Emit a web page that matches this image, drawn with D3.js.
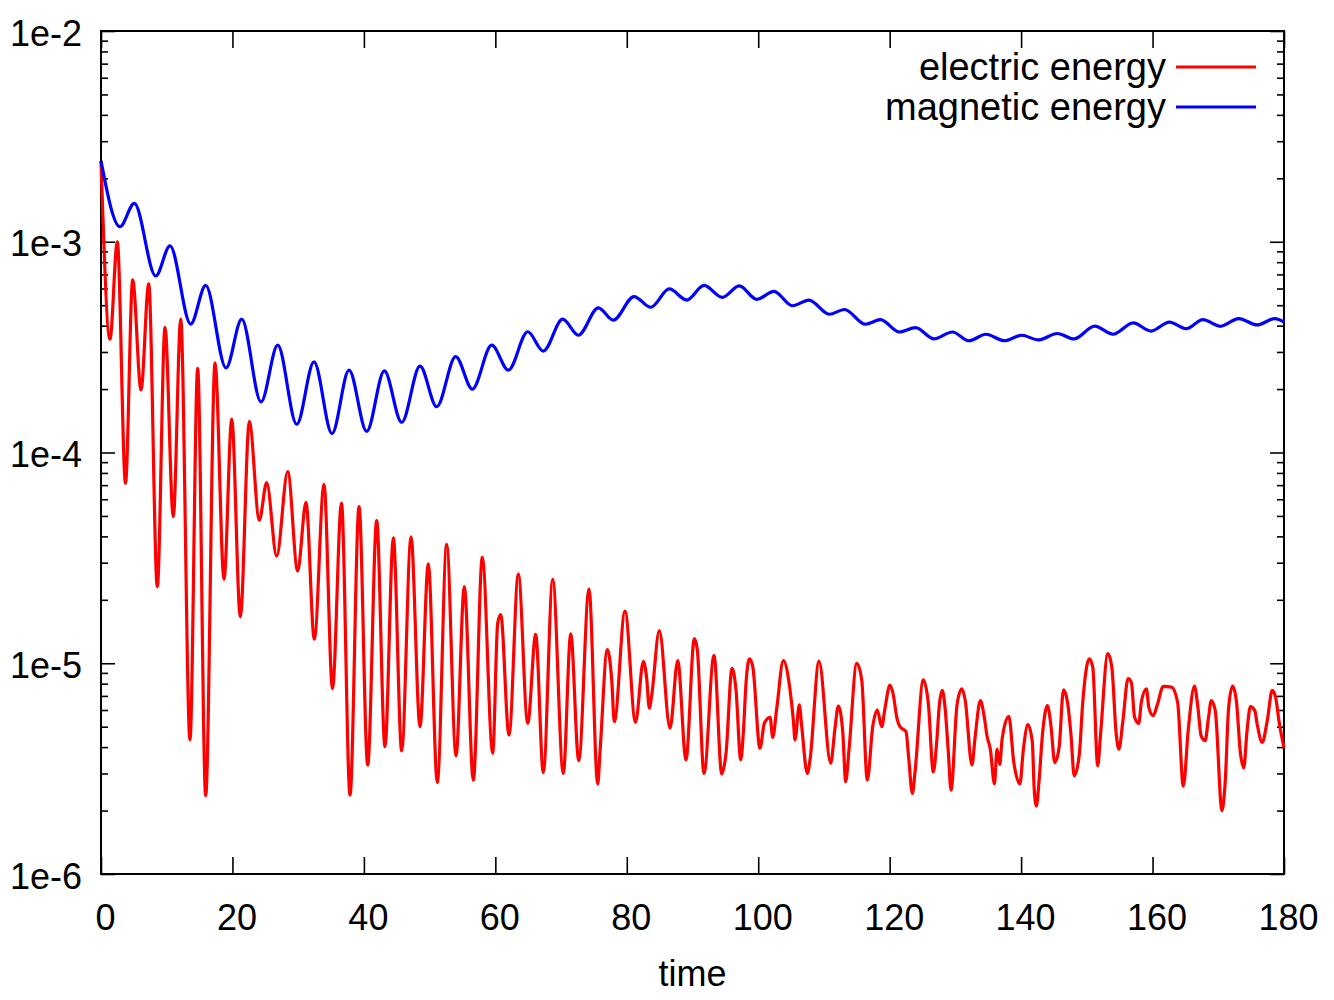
<!DOCTYPE html>
<html>
<head>
<meta charset="utf-8">
<script src="https://cdn.jsdelivr.net/npm/d3@7"></script>
<style>
body { margin: 0; background: #fff; }
text { font-family: "Liberation Sans", Arial, sans-serif; fill: #000; }
</style>
</head>
<body>
<div id="chart"></div>
<script>
// magnetic energy, peaks and troughs
var magneticTime = [0, 2.89, 5.07, 8.32, 10.50, 13.65, 15.93, 19.02, 21.41, 24.35, 26.89, 29.78, 32.41, 35.15, 37.74, 40.43, 43.11, 45.75, 48.54, 51.08, 53.97, 56.50, 59.45, 61.98, 64.93, 67.30, 70.25, 72.63, 75.67, 77.95, 81.10, 83.64, 86.47, 89.12, 91.75, 94.54, 97.12, 99.77, 102.40, 105.19, 107.73, 110.82, 113.13, 116.30, 118.60, 121.50, 123.94, 126.75, 129.55, 132.08, 134.65, 137.45, 140.10, 142.64, 145.50, 148.05, 151.20, 153.99, 157.06, 159.77, 162.57, 165.11, 167.67, 170.31, 173.11, 175.91, 178.62, 180];
var magneticEnergy = [2.42e-3, 1.18e-3, 1.52e-3, 6.88e-4, 9.55e-4, 4.07e-4, 6.21e-4, 2.52e-4, 4.29e-4, 1.74e-4, 3.23e-4, 1.36e-4, 2.69e-4, 1.23e-4, 2.46e-4, 1.26e-4, 2.44e-4, 1.39e-4, 2.57e-4, 1.65e-4, 2.85e-4, 2.00e-4, 3.23e-4, 2.46e-4, 3.74e-4, 3.03e-4, 4.29e-4, 3.60e-4, 4.86e-4, 4.25e-4, 5.49e-4, 4.89e-4, 5.97e-4, 5.29e-4, 6.21e-4, 5.45e-4, 6.17e-4, 5.33e-4, 5.82e-4, 4.97e-4, 5.29e-4, 4.53e-4, 4.77e-4, 4.06e-4, 4.27e-4, 3.73e-4, 3.91e-4, 3.46e-4, 3.73e-4, 3.39e-4, 3.64e-4, 3.39e-4, 3.60e-4, 3.42e-4, 3.67e-4, 3.46e-4, 3.98e-4, 3.64e-4, 4.12e-4, 3.77e-4, 4.16e-4, 3.87e-4, 4.27e-4, 3.97e-4, 4.32e-4, 4.03e-4, 4.32e-4, 4.16e-4];

// electric energy
var electricTime = [0, 1.37, 2.48, 3.73, 4.82, 6.09, 7.26, 8.57, 9.74, 11.0, 12.13, 13.54, 14.71, 15.93, 17.35, 18.72, 19.89, 21.2, 22.57, 24.09, 25.21, 26.73, 28.41, 29.93, 31.19, 32.46, 33.93, 35.22, 36.59, 37.89, 39.26, 40.58, 41.95, 43.21, 44.48, 45.75, 47.17, 48.54, 49.80, 51.17, 52.6, 54.02, 55.28, 56.65, 58.02, 59.6, 60.36, 60.82, 62.08, 63.5, 64.93, 66.14, 67.3, 68.73, 70.34, 71.47, 72.69, 74.25, 75.58, 75.93, 77.04, 77.71, 78.1, 79.73, 81.33, 82.52, 83.03, 83.43, 83.8, 84.95, 86.58, 87.75, 89.01, 90.28, 90.73, 91.75, 93.27, 94.45, 95.1, 96.01, 96.62, 97.34, 97.73, 98.14, 98.65, 99.16, 100.27, 100.93, 101.8, 102.21, 102.82, 103.82, 104.84, 105.34, 105.6, 106.25, 106.62, 107.47, 107.88, 109.25, 111.03, 111.68, 112.19, 112.86, 113.31, 113.81, 114.99, 115.75, 116.6, 117.42, 118.12, 118.79, 119.29, 120.05, 120.56, 121.07, 121.57, 122.49, 122.9, 123.45, 123.86, 125.12, 125.88, 126.64, 127.16, 127.56, 128.01, 128.42, 128.92, 129.34, 130.25, 130.98, 131.5, 132.52, 133.02, 133.8, 134.4, 134.81, 135.32, 135.94, 136.34, 136.75, 137.11, 138.13, 138.89, 139.82, 140.32, 141.04, 141.71, 141.97, 142.32, 142.73, 143.23, 144.0, 144.51, 145.13, 145.78, 146.45, 147.06, 147.58, 148.08, 148.86, 149.36, 150.38, 150.9, 151.66, 152.07, 153.2, 153.8, 154.47, 154.88, 155.49, 156.27, 156.77, 157.27, 157.9, 158.29, 159.07, 159.42, 160.09, 160.76, 161.63, 162.89, 163.81, 164.68, 165.44, 166.37, 166.87, 167.39, 168.0, 168.52, 168.93, 169.54, 170.56, 171.06, 171.58, 172.18, 172.75, 173.36, 173.87, 174.38, 174.89, 175.56, 175.91, 176.69, 177.45, 178.21, 178.72, 179.23, 180];
var electricEnergy = [2.42e-3, 3.45e-4, 1.0e-3, 7.15e-5, 6.59e-4, 1.98e-4, 6.31e-4, 2.31e-5, 3.93e-4, 4.96e-5, 4.29e-4, 4.33e-6, 2.51e-4, 2.35e-6, 2.66e-4, 2.50e-5, 1.44e-4, 1.66e-5, 1.40e-4, 4.78e-5, 7.19e-5, 3.22e-5, 8.11e-5, 2.74e-5, 5.80e-5, 1.30e-5, 7.07e-5, 7.57e-6, 5.76e-5, 2.37e-6, 5.53e-5, 3.29e-6, 4.75e-5, 4.02e-6, 3.94e-5, 3.84e-6, 3.98e-5, 5.00e-6, 2.96e-5, 2.72e-6, 3.67e-5, 3.63e-6, 2.31e-5, 2.79e-6, 3.18e-5, 3.74e-6, 1.55e-5, 1.70e-5, 4.56e-6, 2.65e-5, 5.19e-6, 1.37e-5, 3.03e-6, 2.50e-5, 3.00e-6, 1.38e-5, 3.45e-6, 2.25e-5, 2.67e-6, 3.80e-6, 1.16e-5, 8.33e-6, 5.28e-6, 1.77e-5, 5.24e-6, 1.02e-5, 8.47e-6, 6.12e-6, 7.07e-6, 1.43e-5, 4.92e-6, 1.03e-5, 3.48e-6, 1.31e-5, 1.16e-5, 3.00e-6, 1.09e-5, 2.98e-6, 3.74e-6, 9.46e-6, 7.47e-6, 3.48e-6, 4.65e-6, 8.03e-6, 1.05e-5, 9.70e-6, 3.95e-6, 5.19e-6, 5.54e-6, 4.45e-6, 6.12e-6, 1.03e-5, 7.47e-6, 5.38e-6, 4.33e-6, 6.34e-6, 5.00e-6, 3.00e-6, 3.48e-6, 1.02e-5, 3.35e-6, 4.92e-6, 6.27e-6, 4.73e-6, 2.74e-6, 3.88e-6, 1.0e-5, 8.33e-6, 2.79e-6, 5.00e-6, 6.00e-6, 5.00e-6, 6.12e-6, 7.88e-6, 7.07e-6, 5.57e-6, 5.00e-6, 4.73e-6, 3.54e-6, 2.41e-6, 3.05e-6, 8.33e-6, 6.46e-6, 3.05e-6, 4.24e-6, 6.34e-6, 7.43e-6, 6.20e-6, 3.80e-6, 2.50e-6, 6.36e-6, 7.57e-6, 6.65e-6, 3.29e-6, 4.52e-6, 6.65e-6, 5.54e-6, 4.52e-6, 3.91e-6, 2.68e-6, 3.91e-6, 3.31e-6, 4.37e-6, 5.60e-6, 3.38e-6, 2.68e-6, 3.84e-6, 5.11e-6, 4.21e-6, 2.61e-6, 2.10e-6, 2.76e-6, 4.52e-6, 6.30e-6, 5.15e-6, 3.38e-6, 3.98e-6, 7.48e-6, 6.53e-6, 4.61e-6, 2.92e-6, 3.70e-6, 6.41e-6, 1.05e-5, 9.60e-6, 3.26e-6, 4.52e-6, 1.11e-5, 9.60e-6, 4.61e-6, 3.91e-6, 5.34e-6, 8.45e-6, 8.14e-6, 5.54e-6, 5.18e-6, 6.53e-6, 7.57e-6, 6.19e-6, 5.64e-6, 6.41e-6, 7.77e-6, 7.71e-6, 6.53e-6, 2.61e-6, 4.87e-6, 7.79e-6, 6.30e-6, 4.52e-6, 4.29e-6, 5.54e-6, 6.65e-6, 5.96e-6, 2.00e-6, 2.76e-6, 6.19e-6, 7.79e-6, 6.65e-6, 3.77e-6, 3.19e-6, 4.79e-6, 6.23e-6, 5.96e-6, 5.15e-6, 4.21e-6, 5.34e-6, 7.43e-6, 6.90e-6, 5.34e-6, 3.96e-6];

var xTicks = [0, 20, 40, 60, 80, 100, 120, 140, 160, 180];
var yTicks = [1e-6, 1e-5, 1e-4, 1e-3, 1e-2];
var yTickLabels = ["1e-6", "1e-5", "1e-4", "1e-3", "1e-2"];
var seriesNames = ["electric energy", "magnetic energy"];
var seriesColors = ["#ff0000", "#0000ff"];

var width = 1334;
var height = 1000;
var plotLeft = 101, plotRight = 1284, plotTop = 31, plotBottom = 874;

var svg = d3.select('#chart')
            .append('svg')
            .attr('width', width)
            .attr('height', height);

var x = d3.scaleLinear().domain([0, 180]).range([plotLeft, plotRight]);
var y = d3.scaleLog().domain([1e-6, 1e-2]).range([plotBottom, plotTop]);

// minor ticks 2..9 in each decade
var minorTicks = [];
yTicks.slice(0, 4).forEach(function(d){
  for (var k = 2; k <= 9; k++) minorTicks.push(d * k);
});

function styleAxis(g){
  g.select('.domain').remove();
  g.selectAll('line').attr('stroke', '#000').attr('stroke-width', 1.6);
  g.selectAll('text').attr('font-size', 36).attr('fill', '#000')
   .attr('font-family', '"Liberation Sans", Arial, sans-serif');
}

svg.append('g')
   .attr('transform', 'translate(' + plotLeft + ',0)')
   .call(d3.axisLeft(y).tickValues(yTicks).tickSize(-14).tickPadding(19)
          .tickFormat(function(d, i){ return yTickLabels[i]; }))
   .call(styleAxis)
   .selectAll('text').attr('dy', 14);

svg.append('g')
   .attr('transform', 'translate(' + plotLeft + ',0)')
   .call(d3.axisLeft(y).tickValues(minorTicks).tickSize(-7).tickFormat(''))
   .call(styleAxis);

svg.append('g')
   .attr('transform', 'translate(' + plotRight + ',0)')
   .call(d3.axisRight(y).tickValues(yTicks).tickSize(-14).tickFormat(''))
   .call(styleAxis);

svg.append('g')
   .attr('transform', 'translate(' + plotRight + ',0)')
   .call(d3.axisRight(y).tickValues(minorTicks).tickSize(-7).tickFormat(''))
   .call(styleAxis);

svg.append('g')
   .attr('transform', 'translate(0,' + plotBottom + ')')
   .call(d3.axisBottom(x).tickValues(xTicks).tickSize(-17).tickPadding(30))
   .call(styleAxis)
   .selectAll('text').attr('dx', 4);

svg.append('g')
   .attr('transform', 'translate(0,' + plotTop + ')')
   .call(d3.axisTop(x).tickValues(xTicks).tickSize(-17).tickFormat(''))
   .call(styleAxis);

// frame
svg.append('rect')
   .attr('x', plotLeft)
   .attr('y', plotTop)
   .attr('width', plotRight - plotLeft)
   .attr('height', plotBottom - plotTop)
   .attr('fill', 'none')
   .attr('stroke', '#000')
   .attr('stroke-width', 2);

svg.append('text')
   .attr('x', (plotLeft + plotRight) / 2)
   .attr('y', 986)
   .attr('text-anchor', 'middle')
   .attr('font-size', 36)
   .text('time');

var line = d3.line()
             .x(function(d){ return x(d[0]); })
             .y(function(d){ return y(d[1]); })
             .curve(d3.curveMonotoneX);

var electric = electricTime.map(function(t, i){ return [t, electricEnergy[i]]; });
var magnetic = magneticTime.map(function(t, i){ return [t, magneticEnergy[i]]; });

svg.append('path')
   .datum(electric)
   .attr('d', line)
   .attr('fill', 'none')
   .attr('stroke', seriesColors[0])
   .attr('stroke-width', 3.2)
   .attr('stroke-linejoin', 'round');

svg.append('path')
   .datum(magnetic)
   .attr('d', line)
   .attr('fill', 'none')
   .attr('stroke', seriesColors[1])
   .attr('stroke-width', 3.2)
   .attr('stroke-linejoin', 'round');

// legend
var legend = svg.selectAll('.legend')
                .data(seriesNames)
                .enter()
                .append('g')
                .attr('class', 'legend')
                .attr('transform', function(d, i){ return 'translate(0,' + (67 + i * 40) + ')'; });

legend.append('line')
      .attr('x1', 1176)
      .attr('x2', 1256)
      .attr('stroke', function(d, i){ return seriesColors[i]; })
      .attr('stroke-width', 3);

legend.append('text')
      .attr('x', 1166)
      .attr('y', 13)
      .attr('text-anchor', 'end')
      .attr('font-size', 38)
      .text(function(d){ return d; });
</script>
</body>
</html>
